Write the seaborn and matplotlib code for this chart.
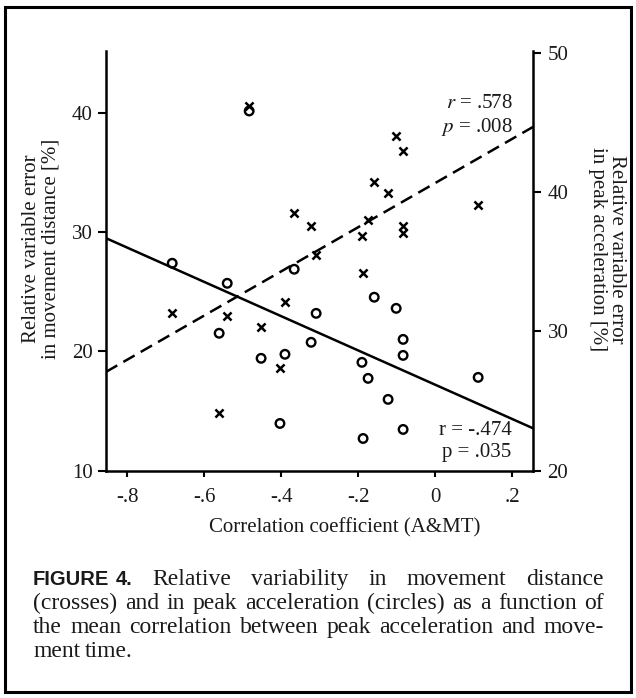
import matplotlib
matplotlib.use("Agg")
import matplotlib.pyplot as plt
import seaborn as sns
import pandas as pd
from matplotlib.patches import Rectangle

# ---------------- data ----------------
corr = [-0.483, -0.683, -0.540, -0.561, -0.452, -0.390, -0.403, -0.366, -0.322, -0.309,
        -0.190, -0.187, -0.174, -0.158, -0.122, -0.101, -0.083, -0.083, -0.083, 0.112]
dist_err = [40.55, 23.20, 22.95, 14.82, 22.03, 24.12, 18.59, 31.58, 30.49, 28.06,
            29.66, 26.55, 31.00, 34.18, 33.26, 38.04, 36.78, 30.49, 29.91, 32.26]
acc_err = [45.83, 34.89, 33.45, 29.86, 28.06, 28.35, 23.38, 34.46, 29.21, 31.29,
           27.77, 22.30, 26.62, 32.45, 25.11, 31.65, 29.42, 28.27, 22.95, 26.69]

x_ticks = [-0.8, -0.6, -0.4, -0.2, 0.0, 0.2]
x_tick_labels = ["-.8", "-.6", "-.4", "-.2", "0", ".2"]
left_ticks = [10, 20, 30, 40]
right_ticks = [20, 30, 40, 50]

stats_dist = ["$r$ = .578", "$p$ = .008"]
stats_acc = ["r = -.474", "p = .035"]

caption_lines = [
    ["FIGURE", "4.", "Relative", "variability", "in", "movement", "distance"],
    ["(crosses)", "and", "in", "peak", "acceleration", "(circles)", "as", "a", "function", "of"],
    ["the", "mean", "correlation", "between", "peak", "acceleration", "and", "move-"],
    ["ment", "time."],
]

# ---------------- style ----------------
sns.set_style("ticks")
plt.rcParams["font.family"] = ["Liberation Serif", "DejaVu Serif"]
plt.rcParams["mathtext.fontset"] = "stix"
TXT = "#1a1a1a"

W, H = 636, 698
fig = plt.figure(figsize=(W / 100, H / 100), dpi=100)
fig.patch.set_facecolor("white")


def fx(px):
    return px / W


def fy(py):
    return 1 - py / H


ax_l, ax_r, ax_b, ax_t = 106, 533, 470.5, 51
ax = fig.add_axes([fx(ax_l), fy(ax_b), (ax_r - ax_l) / W, (ax_b - ax_t) / H])
ax2 = ax.twinx()
XLIM = (-0.855, 0.2545)
ax.set_xlim(*XLIM)
ax.set_ylim(10, 45.16)
ax2.set_ylim(20, 50.14)

df = pd.DataFrame({"corr": corr, "dist": dist_err, "acc": acc_err})

# regression lines
sns.regplot(data=df, x="corr", y="dist", ax=ax, scatter=False, ci=None, truncate=False,
            color="black", line_kws=dict(lw=1.8, linestyle=(0, (5.2, 2.8))))
sns.regplot(data=df, x="corr", y="acc", ax=ax2, scatter=False, ci=None, truncate=False,
            color="black", line_kws=dict(lw=1.8))

# markers
sns.scatterplot(data=df, x="corr", y="dist", ax=ax, marker="x", s=34, color="black",
                linewidth=1.8, zorder=3)
sns.scatterplot(data=df, x="corr", y="acc", ax=ax2, marker="o", s=38,
                facecolor="none", edgecolor="black", linewidth=1.7, zorder=3)

ax.set_xlim(*XLIM)
ax.set_ylim(10, 45.16)
ax2.set_ylim(20, 50.14)
ax.set_xlabel("")
ax.set_ylabel("")
ax2.set_ylabel("")

# spines
for s in ["top", "right"]:
    ax.spines[s].set_visible(False)
for s in ["top", "left", "bottom"]:
    ax2.spines[s].set_visible(False)
for a, sides in ((ax, ["left", "bottom"]), (ax2, ["right"])):
    for s in sides:
        a.spines[s].set_linewidth(1.8)
        a.spines[s].set_color("black")

ax.set_xticks(x_ticks)
ax.set_xticklabels(x_tick_labels)
ax.set_yticks(left_ticks)
ax2.set_yticks(right_ticks)
ax.tick_params(axis="x", direction="out", length=4.5, width=1.5, labelsize=15, pad=8,
               colors="black", labelcolor=TXT)
ax.tick_params(axis="y", direction="out", length=5.5, width=1.5, labelsize=15, pad=4,
               colors="black", labelcolor=TXT)
ax2.tick_params(axis="y", direction="out", length=5.5, width=1.5, labelsize=15, pad=5,
                colors="black", labelcolor=TXT)

# statistics annotations
ax.text(0.953, 0.876, stats_dist[0], transform=ax.transAxes, ha="right", va="center",
        fontsize=15, color=TXT)
ax.text(0.953, 0.819, stats_dist[1], transform=ax.transAxes, ha="right", va="center",
        fontsize=15, color=TXT)
ax.text(0.95, 0.0965, stats_acc[0], transform=ax.transAxes, ha="right", va="center",
        fontsize=15, color=TXT)
ax.text(0.95, 0.042, stats_acc[1], transform=ax.transAxes, ha="right", va="center",
        fontsize=15, color=TXT)

# axis labels
fig.text(fx(345), fy(528), "Correlation coefficient (A&MT)", ha="center", va="center",
         fontsize=15, color=TXT)
fig.text(fx(32), fy(249), "Relative variable error", ha="center", va="center",
         rotation=90, fontsize=15, color=TXT)
fig.text(fx(51), fy(249), "in movement distance [%]", ha="center", va="center",
         rotation=90, fontsize=15, color=TXT)
fig.text(fx(617), fy(249), "Relative variable error", ha="center", va="center",
         rotation=270, fontsize=15, color=TXT)
fig.text(fx(597), fy(249), "in peak acceleration [%]", ha="center", va="center",
         rotation=270, fontsize=15, color=TXT)

# outer frame
fig.patches.append(Rectangle((fx(4.5), fy(692)), fx(631) - fx(4.5), fy(6.5) - fy(692),
                             transform=fig.transFigure, fill=False, lw=2.2,
                             edgecolor="black"))

# caption with justified lines
renderer = fig.canvas.get_renderer()
cap_x0, cap_x1 = 33, 604
baselines = [585, 609, 633, 657]
serif = dict(fontsize=17, family=["Liberation Serif"], color=TXT)
bold = dict(fontsize=14.5, family=["Liberation Sans"], weight="bold", color=TXT)
for li, (words, yb) in enumerate(zip(caption_lines, baselines)):
    texts, widths = [], []
    for wi, w in enumerate(words):
        props = bold if (li == 0 and wi < 2) else serif
        t = fig.text(0, fy(yb), w, ha="left", va="baseline", **props)
        texts.append(t)
        widths.append(t.get_window_extent(renderer).width)
    if li < len(caption_lines) - 1:
        gap = (cap_x1 - cap_x0 - sum(widths)) / (len(words) - 1)
    else:
        gap = 4.5
    x = cap_x0
    for wi, (t, w) in enumerate(zip(texts, widths)):
        t.set_x(fx(x))
        g = gap
        if li == 0 and wi == 0:
            g = 6
        x += w + g
    if li == 0:
        # re-justify the remaining words after the bold label
        x_start = cap_x0 + widths[0] + 6 + widths[1]
        rest = widths[2:]
        gap = (cap_x1 - x_start - sum(rest)) / len(rest)
        x = x_start + gap
        for t, w in zip(texts[2:], rest):
            t.set_x(fx(x))
            x += w + gap

fig.savefig("out.png", dpi=100, facecolor="white")
